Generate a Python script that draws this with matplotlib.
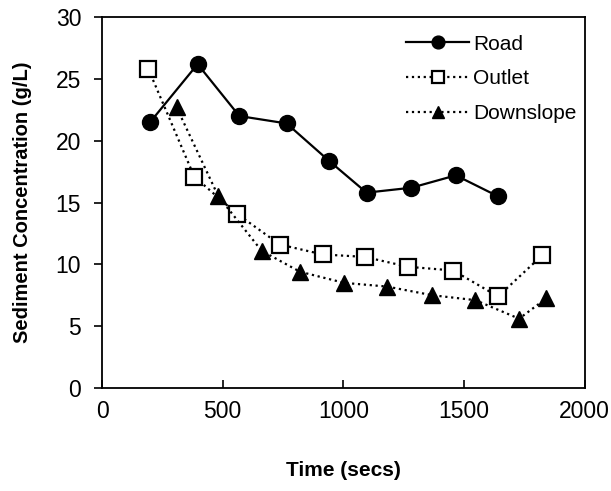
import matplotlib.pyplot as plt

plt.rcParams["font.family"] = ["Liberation Sans", "DejaVu Sans"]

road_t = [199, 396, 569, 765, 939, 1096, 1282, 1466, 1641]
road_c = [21.5, 26.2, 22.0, 21.4, 18.4, 15.8, 16.2, 17.2, 15.5]

outlet_t = [192, 382, 558, 737, 914, 1089, 1268, 1455, 1641, 1825]
outlet_c = [25.8, 17.1, 14.1, 11.6, 10.8, 10.6, 9.8, 9.5, 7.4, 10.75]

down_t = [309, 482, 661, 820, 1003, 1181, 1368, 1547, 1728, 1841]
down_c = [22.7, 15.5, 11.1, 9.4, 8.5, 8.2, 7.5, 7.1, 5.6, 7.25]

fig = plt.figure(figsize=(6.11, 4.91), dpi=100)
ax = fig.add_axes([0.167, 0.21, 0.79, 0.755])

ax.plot(road_t, road_c, color="black", linestyle="-", linewidth=1.6,
        marker="o", markersize=11.5, label="Road")
ax.plot(outlet_t, outlet_c, color="black", linestyle=":", linewidth=1.6,
        marker="s", markersize=11, markerfacecolor="white",
        markeredgewidth=1.6, label="Outlet")
ax.plot(down_t, down_c, color="black", linestyle=":", linewidth=1.6,
        marker="^", markersize=11, label="Downslope")

ax.set_xlim(0, 2000)
ax.set_ylim(0, 30)
ax.set_xticks([0, 500, 1000, 1500, 2000])
ax.set_yticks([0, 5, 10, 15, 20, 25, 30])

ax.tick_params(axis="x", direction="in", length=6, width=1.2, pad=9, labelsize=16.5)
ax.tick_params(axis="y", direction="out", length=6, width=1.2, pad=9, labelsize=16.5)
for s in ax.spines.values():
    s.set_linewidth(1.3)

ax.set_xlabel("Time (secs)", fontsize=15, fontweight="bold", labelpad=27)
ax.set_ylabel("Sediment Concentration (g/L)", fontsize=14.5, fontweight="bold", labelpad=17)

ax.legend(loc="upper right", bbox_to_anchor=(1.0, 0.975), frameon=False,
          fontsize=15, handlelength=3.0, handletextpad=0.2, labelspacing=0.75,
          borderaxespad=0.0, markerscale=0.8)

fig.savefig("out.png", dpi=100)
